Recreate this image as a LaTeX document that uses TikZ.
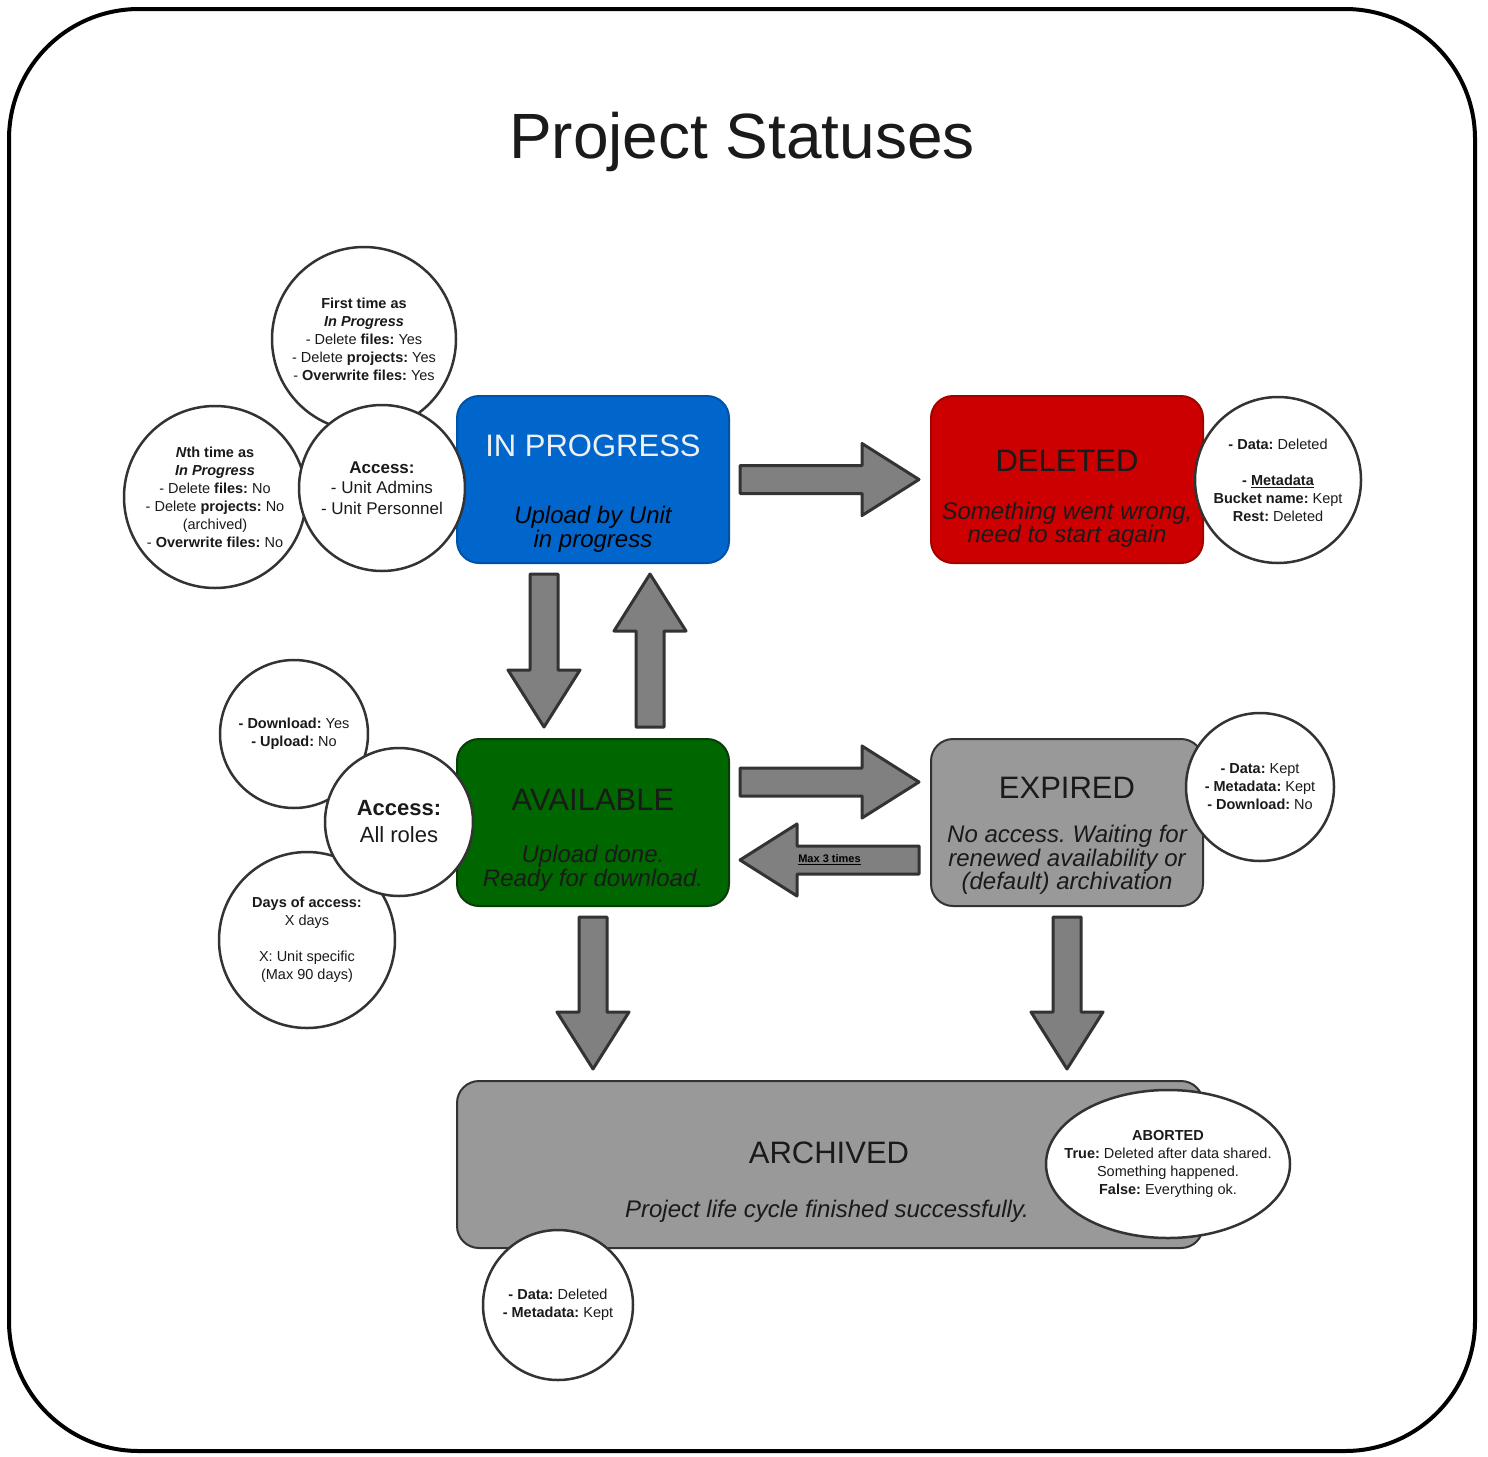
\documentclass[tikz,border=0pt]{standalone}
\usepackage{fontspec}
\setmainfont{Liberation Sans}
\usetikzlibrary{calc,shapes.geometric}
\definecolor{ipblue}{HTML}{0066CC}
\definecolor{ipborder}{HTML}{0052A8}
\definecolor{delred}{HTML}{CC0000}
\definecolor{delborder}{HTML}{A30000}
\definecolor{avgreen}{HTML}{006600}
\definecolor{avborder}{HTML}{0B3B0B}
\definecolor{stgray}{HTML}{999999}
\definecolor{dark}{HTML}{333333}
\definecolor{txt}{HTML}{1A1A1A}
\definecolor{arrgray}{HTML}{808080}
\frenchspacing
\newcommand\blockarrow[2]{%
  \path let \p1=(#1), \p2=(#2) in \pgfextra{%
    \pgfmathsetmacro\baang{atan2(\y2-\y1,\x2-\x1)}%
    \pgfmathsetmacro\balen{veclen(\x2-\x1,\y2-\y1)}%
    \global\let\baangG\baang \global\let\balenG\balen};%
  \begin{scope}[shift={(#1)}, rotate=\baangG]
    \draw[barrowstyle] (0,14) -- (\balenG-57,14) -- (\balenG-57,36) -- (\balenG,0)
      -- (\balenG-57,-36) -- (\balenG-57,-14) -- (0,-14) -- cycle;
  \end{scope}}
\begin{document}
\begin{tikzpicture}[x=1pt,y=1pt,
  box/.style={rounded corners=22pt, minimum width=272pt, minimum height=167pt, line width=2pt, inner sep=0pt},
  bubble/.style={circle, draw=dark, fill=white, line width=2.5pt, inner sep=0pt, align=center, text=txt, font=\fontsize{14.5}{18}\selectfont\frenchspacing},
  bubbletext/.style={align=center, text=txt, font=\fontsize{14.5}{18}\selectfont\frenchspacing},
  btitle/.style={font=\fontsize{31}{36}\selectfont, text=txt},
  bsub/.style={font=\fontsize{24}{23.5}\selectfont\itshape, align=center, text=txt},
  barrowstyle/.style={draw=dark, fill=arrgray, line width=3pt, line join=round}
]
\useasboundingbox (0,0) rectangle (1488,-1456);
\draw[line width=4pt, rounded corners=130pt] (9,-9) rectangle (1475,-1451);
\node[font=\fontsize{64}{70}\selectfont, text=txt] (title) at (742,-142) {Project Statuses};

% status boxes
\node[box, fill=ipblue, draw=ipborder] (ip) at (593,-479.5) {};
\node[btitle, text=white!94!black] (iptitle) at ($(ip.center)+(0,33.5)$) {IN PROGRESS};
\node[bsub, text=black] (ipsub) at ($(ip.center)+(0,-50)$) {Upload by Unit\\in progress};

\node[box, fill=delred, draw=delborder] (del) at (1067,-479.5) {};
\node[btitle] (deltitle) at ($(del.center)+(0,18.5)$) {DELETED};
\node[bsub] (delsub) at ($(del.center)+(0,-45.5)$) {Something went wrong,\\need to start again};

\node[box, fill=avgreen, draw=avborder] (av) at (593,-822.5) {};
\node[btitle] (avtitle) at ($(av.center)+(0,22.5)$) {AVAILABLE};
\node[bsub] (avsub) at ($(av.center)+(0,-46)$) {Upload done.\\Ready for download.};

\node[box, fill=stgray, draw=dark] (exp) at (1067,-822.5) {};
\node[btitle] (exptitle) at ($(exp.center)+(0,34.5)$) {EXPIRED};
\node[bsub] (expsub) at ($(exp.center)+(0,-37.5)$) {No access. Waiting for\\renewed availability or\\(default) archivation};

\node[box, fill=stgray, draw=dark, minimum width=746pt] (arch) at (830,-1164.5) {};
\node[btitle] (archtitle) at ($(arch.center)+(-1,11.5)$) {ARCHIVED};
\node[bsub] (archsub) at ($(arch.center)+(-3,-46.5)$) {Project life cycle finished successfully.};

% block arrows
\coordinate (a1s) at ($(ip.east)+(10,0)$);
\coordinate (a1e) at ($(del.west)+(-11,0)$);
\coordinate (a2s) at ($(ip.south)+(-49,-10)$);
\coordinate (a2e) at ($(av.north)+(-49,11)$);
\coordinate (a3s) at ($(av.north)+(57,11)$);
\coordinate (a3e) at ($(ip.south)+(57,-10)$);
\coordinate (a4s) at ($(av.east)+(10,40.5)$);
\coordinate (a4e) at ($(exp.west)+(-11,40.5)$);
\coordinate (a5s) at ($(exp.west)+(-11,-37.5)$);
\coordinate (a5e) at ($(av.east)+(10,-37.5)$);
\coordinate (a6s) at ($(av.south)+(0,-10)$);
\coordinate (a6e) at ($(av.south |- arch.north)+(0,11)$);
\coordinate (a7s) at ($(exp.south)+(0,-10)$);
\coordinate (a7e) at ($(exp.south |- arch.north)+(0,11)$);
\blockarrow{a1s}{a1e}
\blockarrow{a2s}{a2e}
\blockarrow{a3s}{a3e}
\blockarrow{a4s}{a4e}
\blockarrow{a5s}{a5e}
\blockarrow{a6s}{a6e}
\blockarrow{a7s}{a7e}
\node[font=\fontsize{11}{13}\selectfont\bfseries, text=black] (maxlbl) at ($(a5s)!0.5!(a5e)$) {\underline{Max 3 times}};

% bubbles around IN PROGRESS
\node[bubble, minimum size=184pt] (first) at (364,-339) {\textbf{First time as}\\\textbf{\textit{In Progress}}\\- Delete \textbf{files:} Yes\\- Delete \textbf{projects:} Yes\\- \textbf{Overwrite files:} Yes};
\node[bubble, minimum size=182pt] (nth) at (215,-497) {\textbf{\textit{N}th time as}\\\textbf{\textit{In Progress}}\\- Delete \textbf{files:} No\\- Delete \textbf{projects:} No\\(archived)\\- \textbf{Overwrite files:} No};
\node[bubble, minimum size=166pt, font=\fontsize{17}{20.5}\selectfont] (ipacc) at (382,-488) {\textbf{Access:}\\- Unit Admins\\- Unit Personnel};

% bubble DELETED
\node[bubble, minimum size=166pt] (delinfo) at (1278,-480) {\textbf{- Data:} Deleted\\[18pt]\textbf{- \underline{Metadata}}\\\textbf{Bucket name:} Kept\\\textbf{Rest:} Deleted};

% bubbles around AVAILABLE
\node[bubble, minimum size=148pt] (dl) at (294,-734) {\textbf{- Download:} Yes\\\textbf{- Upload:} No};
\node[bubble, minimum size=176pt] (days) at (307,-940) {\textbf{Days of access:}\\X days\\[18pt]X: Unit specific\\(Max 90 days)};
\node[bubble, minimum size=148pt, font=\fontsize{22}{27}\selectfont] (avacc) at (399,-822) {\textbf{Access:}\\All roles};

% bubble EXPIRED
\node[bubble, minimum size=148pt] (expinfo) at (1260,-787) {\textbf{- Data:} Kept\\\textbf{- Metadata:} Kept\\\textbf{- Download:} No};

% ARCHIVED bubbles
\node[draw=dark, fill=white, line width=2.5pt, ellipse, inner sep=0pt, minimum width=244pt, minimum height=148pt] (abort) at (1168,-1164) {};
\node[bubbletext] (aborttxt) at (abort.center) {\textbf{ABORTED}\\\textbf{True:} Deleted after data shared.\\Something happened.\\\textbf{False:} Everything ok.};
\node[bubble, minimum size=150pt] (archinfo) at (558,-1305) {\textbf{- Data:} Deleted\\\textbf{- Metadata:} Kept};
\end{tikzpicture}
\end{document}
